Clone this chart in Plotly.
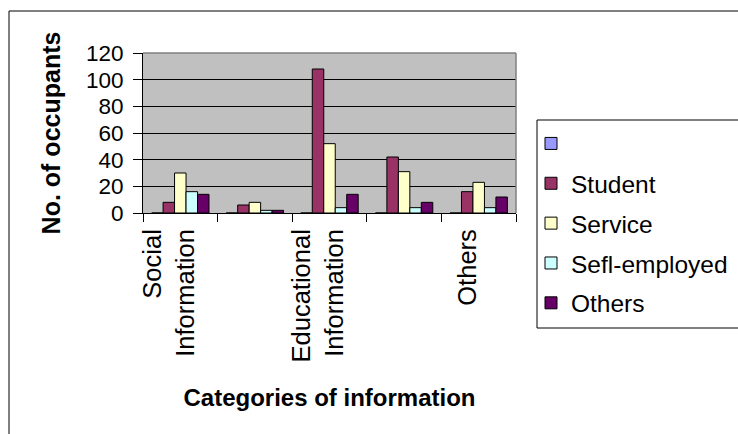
import plotly.graph_objects as go

# Information categories (unlabelled slots keep Excel's skipped labels)
categories = ["Social<br>Information", " ", "Educational<br>Information", "  ", "Others"]

# Occupant counts per occupation group
series_names = ["", "Student", "Service", "Sefl-employed", "Others"]
blank_vals = [0, 0, 0, 0, 0]
student_vals = [8, 6, 108, 42, 16]
service_vals = [30, 8, 52, 31, 23]
self_employed_vals = [16, 2, 4, 4, 4]
others_vals = [14, 2, 14, 8, 12]

colors = ["#9999FF", "#993366", "#FFFFCC", "#CCFFFF", "#660066"]
all_vals = [blank_vals, student_vals, service_vals, self_employed_vals, others_vals]

W, H = 738, 434
L, R, T, B = 143, 516, 53, 213  # plot area in pixels
pw, ph = R - L, B - T


def px(x):
    return (x - L) / pw


def py(y):
    return (B - y) / ph


FONT = "Liberation Sans, Arial, sans-serif"

fig = go.Figure()
for i, (name, vals, col) in enumerate(zip(series_names, all_vals, colors)):
    fig.add_trace(go.Bar(
        x=categories, y=vals, name=name,
        marker=dict(color=col, line=dict(color="black", width=1)),
        legendgroup=f"g{i}",
    ))

shapes = [
    # outer chart frame
    dict(type="rect", xref="paper", yref="paper",
         x0=px(9), y0=py(11), x1=px(760), y1=py(460),
         line=dict(color="black", width=1), fillcolor="rgba(0,0,0,0)", layer="above"),
    # plot area top/right border
    dict(type="line", xref="paper", yref="paper", x0=0, x1=1, y0=1, y1=1,
         line=dict(color="#808080", width=1.5), layer="above"),
    dict(type="line", xref="paper", yref="paper", x0=1, x1=1, y0=0, y1=1,
         line=dict(color="#808080", width=1.5), layer="above"),
    # legend frame
    dict(type="rect", xref="paper", yref="paper",
         x0=px(537), y0=py(120), x1=px(760), y1=py(328),
         line=dict(color="black", width=1), fillcolor="rgba(0,0,0,0)", layer="above"),
]

fig.update_layout(
    width=W, height=H,
    margin=dict(l=L, r=W - R, t=T, b=H - B, autoexpand=False),
    paper_bgcolor="white",
    plot_bgcolor="#C0C0C0",
    barmode="group",
    bargap=1.5 / 6.5,
    bargroupgap=0,
    font=dict(family=FONT, color="black"),
    showlegend=True,
    legend=dict(
        x=px(531), y=py(121), xanchor="left", yanchor="top",
        font=dict(size=24.5, family=FONT),
        bgcolor="rgba(0,0,0,0)", borderwidth=0,
        traceorder="grouped", tracegroupgap=5,
        maxheight=400,
    ),
    shapes=shapes,
    xaxis=dict(
        type="category",
        tickson="boundaries",
        ticks="outside", ticklen=8, tickcolor="black",
        tickangle=-90,
        tickfont=dict(size=25.5),
        ticklabelstandoff=5,
        ticklabelshift=-11,
        showline=True, linecolor="black", linewidth=1,
        showgrid=False,
        title=dict(text="<b>Categories of information</b>", font=dict(size=24), standoff=27),
    ),
    yaxis=dict(
        range=[0, 120], dtick=20,
        ticks="outside", ticklen=9, tickcolor="black",
        tickfont=dict(size=22.5),
        ticklabelstandoff=5,
        showline=True, linecolor="black", linewidth=1,
        showgrid=True, gridcolor="black", gridwidth=1,
        zeroline=False,
        title=dict(text="<b>No. of occupants</b>", font=dict(size=25), standoff=18),
    ),
)

fig.write_html("out.html")
